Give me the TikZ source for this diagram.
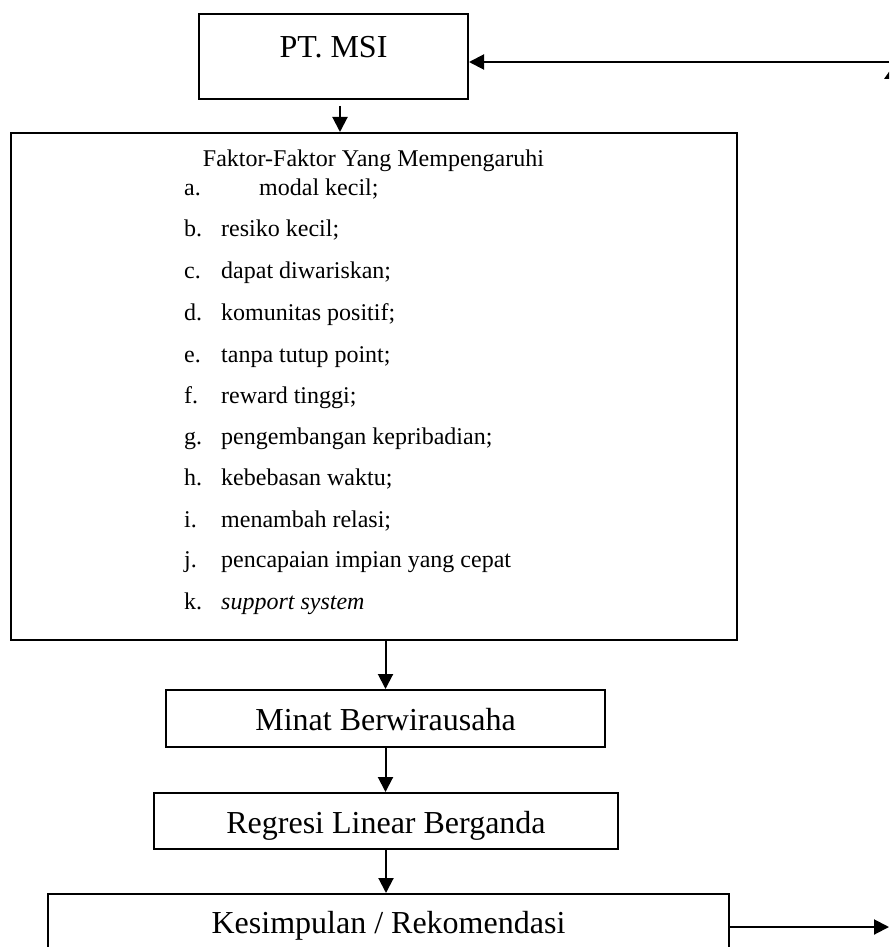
\documentclass[tikz,border=0pt]{standalone}
\usepackage{fontspec}
\setmainfont{Liberation Serif}
\usetikzlibrary{arrows.meta}
\begin{document}
\begin{tikzpicture}[x=1pt,y=-1pt,
  box/.style={draw=black,line width=2pt,inner sep=0pt,fill=none},
  big/.style={inner sep=0pt,anchor=base,font=\fontsize{32}{38}\selectfont},
  small/.style={inner sep=0pt,anchor=base west,font=\fontsize{24}{29}\selectfont},
  arr/.style={line width=2pt,-{Triangle[length=15pt,width=15pt]}}]
\clip (0,0) rectangle (889,947);
\fill[white] (0,0) rectangle (889,947);
% boxes
\node[box,minimum width=269pt,minimum height=85pt] (pt) at (333.5,56.5) {};
\node[box,minimum width=726pt,minimum height=507pt] (fak) at (374,386.5) {};
\node[box,minimum width=439pt,minimum height=57pt] (minat) at (385.5,718.5) {};
\node[box,minimum width=464pt,minimum height=56pt] (reg) at (386,821) {};
\node[box,minimum width=681pt,minimum height=80pt] (kes) at (388.5,934) {};
% texts
\node[big] (tpt) at (333.5,58) {PT. MSI};
\node[inner sep=0pt,anchor=base,font=\fontsize{24}{29}\selectfont] (thead) at (373.5,166) {Faktor-Faktor Yang Mempengaruhi};
\node[small] (la) at (184,195) {a.};
\node[small] (ta) at (259,195) {modal kecil;};
\node[small] (lb) at (184,236) {b.};
\node[small] (tb) at (221,236) {resiko kecil;};
\node[small] (lc) at (184,278) {c.};
\node[small] (tc) at (221,278) {dapat diwariskan;};
\node[small] (ld) at (184,320) {d.};
\node[small] (td) at (221,320) {komunitas positif;};
\node[small] (le) at (184,362) {e.};
\node[small] (te) at (221,362) {tanpa tutup point;};
\node[small] (lf) at (184,403) {f.};
\node[small] (tf) at (221,403) {reward tinggi;};
\node[small] (lg) at (184,444) {g.};
\node[small] (tg) at (221,444) {pengembangan kepribadian;};
\node[small] (lh) at (184,485) {h.};
\node[small] (th) at (221,485) {kebebasan waktu;};
\node[small] (li) at (184,527) {i.};
\node[small] (ti) at (221,527) {menambah relasi;};
\node[small] (lj) at (184,567) {j.};
\node[small] (tj) at (221,567) {pencapaian impian yang cepat};
\node[small] (lk) at (184,609) {k.};
\node[small] (tk) at (221,609) {\itshape support system};
\node[big] (tminat) at (385.5,730) {Minat Berwirausaha};
\node[big] (treg) at (386,833) {Regresi Linear Berganda};
\node[big] (tkes) at (388.5,933) {Kesimpulan / Rekomendasi};
% connectors
\coordinate (a1) at (340,106);
\draw[arr] (a1) -- (a1 |- fak.north);
\draw[arr] (fak.south -| minat.north) -- (minat.north);
\draw[arr] (minat.south) -- (minat.south |- reg.north);
\draw[arr] (reg.south) -- (reg.south |- kes.north);
\coordinate (r2) at (889,927);
\draw[arr] (kes.east |- r2) -- (r2);
\coordinate (r1) at (889,62);
\draw[arr] (r1) -- (r1 -| pt.east);
% cut-off arrowhead fragment at the right edge
\fill[black] (891,69) -- (884,79) -- (898,79) -- cycle;
\end{tikzpicture}
\end{document}
